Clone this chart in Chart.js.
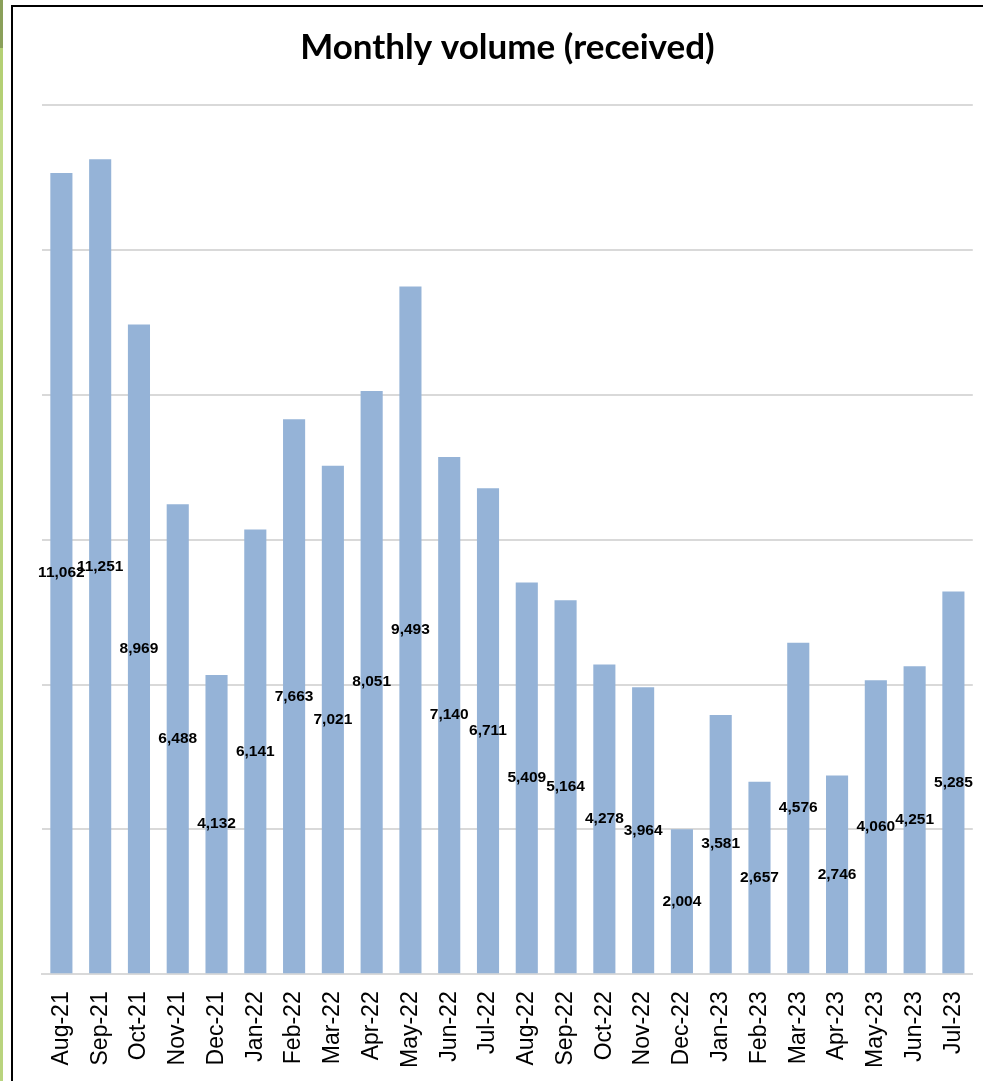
<!DOCTYPE html>
<html>
<head>
<meta charset="utf-8">
<script src="https://cdn.jsdelivr.net/npm/chart.js@4"></script>
<style>
    html, body { margin: 0; padding: 0; background: #fff; overflow: hidden; }
    body { width: 983px; height: 1081px; position: relative; }
    #strip {
        position: absolute; left: 0; top: 0; width: 3px; height: 1081px;
        background: linear-gradient(to bottom, #8aa05a 0px, #8aa05a 48px, #b4d074 48px, #b4d074 110px, #c3dc8c 110px, #c3dc8c 330px, #b9d47e 330px, #b9d47e 1081px);
    }
    #frame {
        position: absolute; left: 11px; top: 5px; width: 1200px; height: 1200px;
        border-left: 2px solid #000; border-top: 2px solid #000;
    }
    /* canvas runs a little past the window so the plot reaches x=972 */
    #wrap { position: absolute; left: 14px; top: 8px; width: 976px; height: 1069px; }
</style>
</head>
<body>
<div id="strip"></div>
<div id="frame"></div>
<div id="wrap"><canvas id="volumeChart"></canvas></div>
<script>
const chartTitle = "Monthly volume (received)";
const months = ["Aug-21", "Sep-21", "Oct-21", "Nov-21", "Dec-21", "Jan-22", "Feb-22", "Mar-22",
    "Apr-22", "May-22", "Jun-22", "Jul-22", "Aug-22", "Sep-22", "Oct-22", "Nov-22",
    "Dec-22", "Jan-23", "Feb-23", "Mar-23", "Apr-23", "May-23", "Jun-23", "Jul-23"];
const received = [11062, 11251, 8969, 6488, 4132, 6141, 7663, 7021,
    8051, 9493, 7140, 6711, 5409, 5164, 4278, 3964,
    2004, 3581, 2657, 4576, 2746, 4060, 4251, 5285];
const yMax = 12000;
const yStep = 2000;

// value labels in the middle of each bar
const midLabels = {
    id: "midLabels",
    afterDatasetsDraw(chart) {
        const ctx = chart.ctx;
        const meta = chart.getDatasetMeta(0);
        ctx.save();
        ctx.font = "bold 15.5px 'Liberation Sans', Arial, sans-serif";
        ctx.fillStyle = "#000";
        ctx.textAlign = "center";
        ctx.textBaseline = "middle";
        meta.data.forEach((bar, i) => {
            const v = chart.data.datasets[0].data[i];
            ctx.fillText(v.toLocaleString("en-US"), bar.x, (bar.y + bar.base) / 2);
        });
        ctx.restore();
    }
};

// title centred over the plot area
const plotTitle = {
    id: "plotTitle",
    afterDraw(chart) {
        const ctx = chart.ctx;
        const area = chart.chartArea;
        ctx.save();
        ctx.font = "bold 35px Lato, sans-serif";
        ctx.fillStyle = "#000";
        ctx.textAlign = "center";
        ctx.textBaseline = "alphabetic";
        ctx.fillText(chartTitle, (area.left + area.right) / 2, 51);
        ctx.restore();
    }
};

const canvas = document.getElementById("volumeChart");
if (canvas != null) {
    const ctx = canvas.getContext("2d");

    const myChart = new Chart(ctx, {
        type: "bar",
        data: {
            labels: months,
            datasets: [
                {
                    label: "Received",
                    data: received,
                    backgroundColor: "#95b3d7",
                    borderWidth: 0,
                    categoryPercentage: 1.0,
                    barPercentage: 0.57,
                },
            ],
        },
        plugins: [midLabels, plotTitle],
        options: {
            responsive: true,
            maintainAspectRatio: false,
            animation: false,
            layout: {
                padding: { left: 28, right: 0, top: 97, bottom: 0 },
            },
            plugins: {
                legend: { display: false },
                tooltip: { enabled: false },
                title: { display: false },
            },
            scales: {
                x: {
                    grid: { display: false },
                    border: { display: true, color: "#d9d9d9", width: 2 },
                    ticks: {
                        color: "#000",
                        font: { family: "'Liberation Sans', Arial, sans-serif", size: 23 },
                        maxRotation: 90,
                        minRotation: 90,
                        padding: 9,
                        autoSkip: false,
                    },
                },
                y: {
                    min: 0,
                    max: yMax,
                    ticks: { display: false, stepSize: yStep },
                    border: { display: false },
                    grid: { color: "#d9d9d9", lineWidth: 2, drawTicks: false },
                },
            },
        },
    });
}
</script>
</body>
</html>
